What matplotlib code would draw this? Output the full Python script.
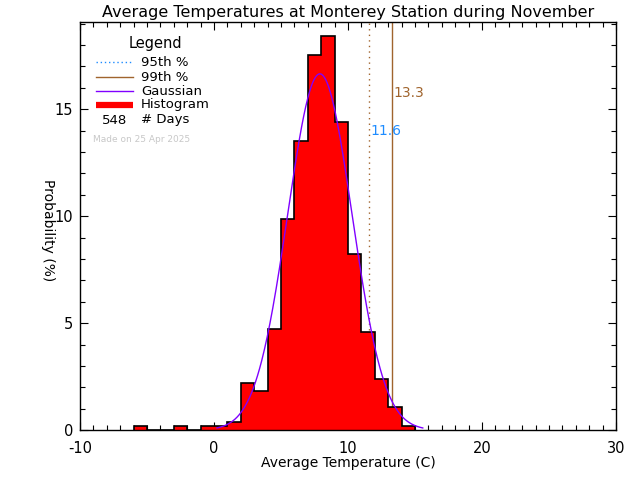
import numpy as np
import matplotlib
matplotlib.use("Agg")
import matplotlib.pyplot as plt
from matplotlib.ticker import MultipleLocator

# histogram: 1 degree bins, number of days per bin
bin_edges = list(range(-6, 16))
day_counts = [1, 0, 0, 1, 0, 1, 1, 2, 12, 10, 26, 54, 74, 96, 101, 79, 45, 25, 13, 6, 1]
n_days = 548

# gaussian fit
gauss_mean = 7.9
gauss_sigma = 2.4
gauss_peak = 16.65

# percentiles
p95 = 11.6
p99 = 13.3

title = "Average Temperatures at Monterey Station during November"
made_on = "Made on 25 Apr 2025"

red = "#ff0000"
purple = "#8000ff"
brown = "#a0642d"
blue = "#1e8cff"

plt.rcParams["axes.unicode_minus"] = False

probs = np.array(day_counts) / n_days * 100.0

fig = plt.figure(figsize=(6.4, 4.8), dpi=100)
ax = fig.add_axes([0.125, 0.104, 0.8375, 0.850])

ax.stairs(probs, bin_edges, fill=True, color=red, zorder=2)
ax.stairs(probs, bin_edges, color="black", lw=1.2, zorder=3)

gx = np.linspace(gauss_mean - 3.2 * gauss_sigma, gauss_mean + 3.2 * gauss_sigma, 300)
gy = gauss_peak * np.exp(-0.5 * ((gx - gauss_mean) / gauss_sigma) ** 2)
ax.plot(gx, gy, color=purple, lw=1.0, zorder=4)

ax.axvline(p95, color=brown, lw=1.0, ls=(0, (1, 3)), zorder=1)
ax.axvline(p99, color=brown, lw=1.0, zorder=1)
ax.text(p95 + 0.1, 14.0, "%.1f" % p95, color=blue, fontsize=10, va="center", ha="left")
ax.text(p99 + 0.1, 15.75, "%.1f" % p99, color=brown, fontsize=10, va="center", ha="left")

ax.set_xlim(-10, 30)
ax.set_ylim(0, 19.07)
ax.xaxis.set_major_locator(MultipleLocator(10))
ax.xaxis.set_minor_locator(MultipleLocator(1))
ax.yaxis.set_major_locator(MultipleLocator(5))
ax.yaxis.set_minor_locator(MultipleLocator(1))
ax.tick_params(which="both", direction="in", top=True, right=True, width=0.8, labelsize=10.5)
ax.tick_params(which="major", length=6)
ax.tick_params(which="minor", length=3.5)
ax.tick_params(axis="x", pad=8)
ax.tick_params(axis="y", pad=5)
for s in ax.spines.values():
    s.set_linewidth(1.0)

ax.set_title(title, fontsize=11.5, pad=4)
ax.set_xlabel("Average Temperature (C)", fontsize=10, labelpad=0)
ax.set_ylabel("Probability (%)", fontsize=10, rotation=270, ha="center", va="center")
ax.yaxis.set_label_coords(-0.06, 0.49)

# legend drawn by hand
tr = ax.transAxes
ax.text(0.14, 0.9485, "Legend", transform=tr, ha="center", va="center", fontsize=10.5)
rows = [0.902, 0.865, 0.831, 0.797]
ax.plot([0.030, 0.099], [rows[0]] * 2, transform=tr, color=blue, lw=1.0, ls=(0, (1, 2)))
ax.plot([0.030, 0.099], [rows[1]] * 2, transform=tr, color=brown, lw=1.0)
ax.plot([0.030, 0.099], [rows[2]] * 2, transform=tr, color=purple, lw=1.0)
ax.plot([0.030, 0.099], [rows[3]] * 2, transform=tr, color=red, lw=4.5, solid_capstyle="butt")
for y, lab in zip(rows, ["95th %", "99th %", "Gaussian", "Histogram"]):
    ax.text(0.114, y, lab, transform=tr, ha="left", va="center", fontsize=9.5)
ax.text(0.064, 0.760, str(n_days), transform=tr, ha="center", va="center", fontsize=9.5)
ax.text(0.114, 0.760, "# Days", transform=tr, ha="left", va="center", fontsize=9.5)
ax.text(0.024, 0.713, made_on, transform=tr, ha="left", va="center", fontsize=6.5, color="#c8c8c8")

fig.savefig("out.png", dpi=100)
